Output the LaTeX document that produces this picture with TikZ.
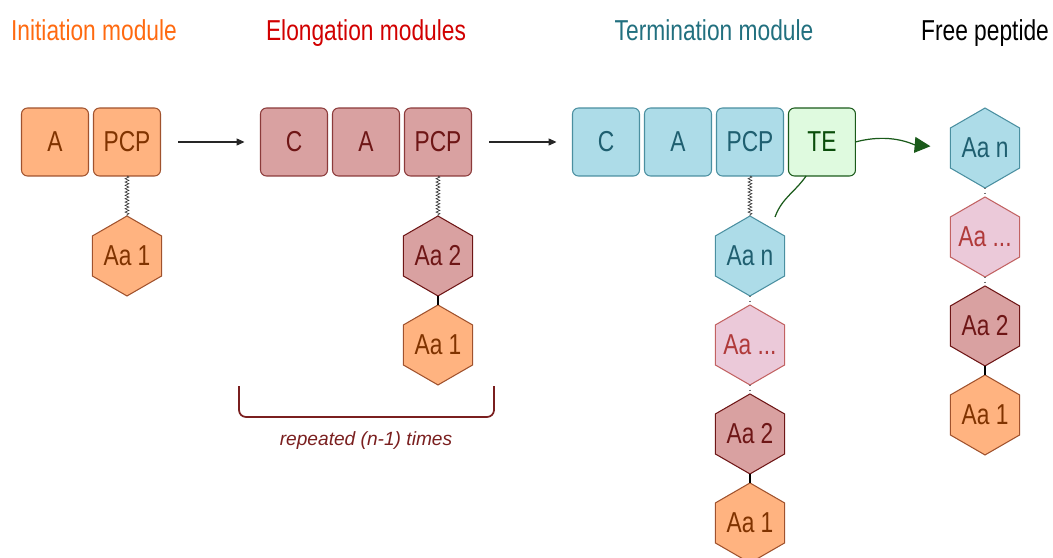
\documentclass[tikz,border=0pt]{standalone}
\usepackage{fontspec}
\setmainfont{Liberation Sans}
\newfontfamily\labelfont[FakeStretch=0.79]{Liberation Sans}
\usetikzlibrary{positioning,shapes.geometric,arrows.meta,decorations.pathmorphing}

% module colours
\definecolor{iniFill}{HTML}{FFB380}
\definecolor{iniLine}{HTML}{A0522D}
\definecolor{iniText}{HTML}{803300}
\definecolor{iniTitle}{HTML}{FF6A10}
\definecolor{eloFill}{HTML}{D9A1A1}
\definecolor{eloLine}{HTML}{8B3A3A}
\definecolor{eloDark}{HTML}{6E1616}
\definecolor{eloTitle}{HTML}{D10000}
\definecolor{terFill}{HTML}{ADDCE8}
\definecolor{terLine}{HTML}{4A8FA0}
\definecolor{terText}{HTML}{1F5F70}
\definecolor{terTitle}{HTML}{22707F}
\definecolor{teFill}{HTML}{DFFADF}
\definecolor{teLine}{HTML}{1A5A1A}
\definecolor{teText}{HTML}{0B4D0B}
\definecolor{dotFill}{HTML}{EBC9D9}
\definecolor{dotLine}{HTML}{C26262}
\definecolor{dotText}{HTML}{B03A3A}
\definecolor{repText}{HTML}{7A1F1F}

\newcommand{\BigLabel}{\labelfont\fontsize{16.4}{18}\selectfont}
% residue label: keeps the hexagon at its minimum size
\newcommand{\Res}[1]{\makebox[0pt]{#1}}

\tikzset{
  dom/.style={draw, rounded corners=3.4pt, line width=0.6pt,
    minimum width=1.34cm, minimum height=1.36cm,
    inner sep=0pt, outer sep=0pt, font=\BigLabel},
  aa/.style={draw, regular polygon, regular polygon sides=6,
    regular polygon rotate=30, minimum size=1.6cm,
    inner sep=0pt, outer sep=0pt, line width=0.6pt, font=\BigLabel},
  ini/.style={fill=iniFill, draw=iniLine, text=iniText},
  elo/.style={fill=eloFill, draw=eloLine, text=eloDark},
  ter/.style={fill=terFill, draw=terLine, text=terText},
  te/.style={fill=teFill, draw=teLine, text=teText},
  res1/.style={fill=iniFill, draw=iniLine, text=iniText},
  res2/.style={fill=eloFill, draw=eloDark, text=eloDark},
  resdots/.style={fill=dotFill, draw=dotLine, text=dotText},
  resn/.style={fill=terFill, draw=terLine, text=terText},
  title/.style={font=\BigLabel, anchor=base, inner sep=0pt},
  wavy/.style={decorate, decoration={snake, amplitude=1.1pt, segment length=1.9pt},
    line width=0.35pt, black!80},
  bond/.style={line width=0.6pt, black},
  gap/.style={line width=0.6pt, dotted, black!55},
  flow/.style={-{Triangle[length=4.5pt,width=4pt]}, line width=0.6pt, black!85,
    shorten <=0.36cm, shorten >=0.32cm},
  release/.style={-{Triangle[length=9pt,width=9pt]}, line width=0.7pt, teLine},
}

\begin{document}
\begin{tikzpicture}[x=0.02cm, y=-0.02cm]
  \useasboundingbox (0,0) rectangle (1053,557);

  % titles
  \node[title, text=iniTitle] (tIni) at (94,41) {Initiation module};
  \node[title, text=eloTitle] (tElo) at (366,41) {Elongation modules};
  \node[title, text=terTitle] (tTer) at (714,41) {Termination module};
  \node[title, text=black]    (tFree) at (985,41) {Free peptide};

  % initiation module
  \node[dom, ini] (iniA) at (55,142) {A};
  \node[dom, ini, right=0.1cm of iniA] (iniPcp) {PCP};
  \node[aa, res1, below=0.8cm of iniPcp] (ini1) {\Res{Aa 1}};
  \draw[wavy] (iniPcp.south) -- (ini1.north);

  % elongation module
  \node[dom, elo] (eloC) at (294,142) {C};
  \node[dom, elo, right=0.1cm of eloC] (eloA) {A};
  \node[dom, elo, right=0.1cm of eloA] (eloPcp) {PCP};
  \node[aa, res2, below=0.8cm of eloPcp] (elo2) {\Res{Aa 2}};
  \node[aa, res1, below=0.18cm of elo2] (elo1) {\Res{Aa 1}};
  \draw[wavy] (eloPcp.south) -- (elo2.north);
  \draw[bond] (elo2) -- (elo1);

  \draw[repText, line width=1pt, rounded corners=4pt]
    (239,386) -- (239,417) -- (494,417) -- (494,386);
  \node[text=repText, font=\fontsize{10.9}{12}\selectfont\itshape] (rep) at (366,441)
    {repeated (n-1) times};

  % termination module
  \node[dom, ter] (terC) at (606,142) {C};
  \node[dom, ter, right=0.1cm of terC] (terA) {A};
  \node[dom, ter, right=0.1cm of terA] (terPcp) {PCP};
  \node[dom, te, right=0.1cm of terPcp] (terTe) {TE};
  \node[aa, resn, below=0.8cm of terPcp] (terN) {\Res{Aa n}};
  \node[aa, resdots, below=0.18cm of terN] (terDots) {\Res{Aa ...}};
  \node[aa, res2, below=0.18cm of terDots] (ter2) {\Res{Aa 2}};
  \node[aa, res1, below=0.18cm of ter2] (ter1) {\Res{Aa 1}};
  \draw[wavy] (terPcp.south) -- (terN.north);
  \draw[gap] (terN) -- (terDots);
  \draw[gap] (terDots) -- (ter2);
  \draw[bond] (ter2) -- (ter1);

  % free peptide
  \node[aa, resn] (freeN) at (985,148) {\Res{Aa n}};
  \node[aa, resdots, below=0.18cm of freeN] (freeDots) {\Res{Aa ...}};
  \node[aa, res2, below=0.18cm of freeDots] (free2) {\Res{Aa 2}};
  \node[aa, res1, below=0.18cm of free2] (free1) {\Res{Aa 1}};
  \draw[gap] (freeN) -- (freeDots);
  \draw[gap] (freeDots) -- (free2);
  \draw[bond] (free2) -- (free1);

  % module to module
  \draw[flow] (iniPcp.east) -- (eloC.west);
  \draw[flow] (eloPcp.east) -- (terC.west);

  % thioesterase cleavage
  \coordinate (cut) at (775,217);
  \draw[teLine, line width=0.7pt] (cut) to[out=70, in=235] (terTe.245);
  \draw[release, shorten >=0.4cm] (terTe.east) to[out=15, in=175] (freeN.west);
\end{tikzpicture}
\end{document}
